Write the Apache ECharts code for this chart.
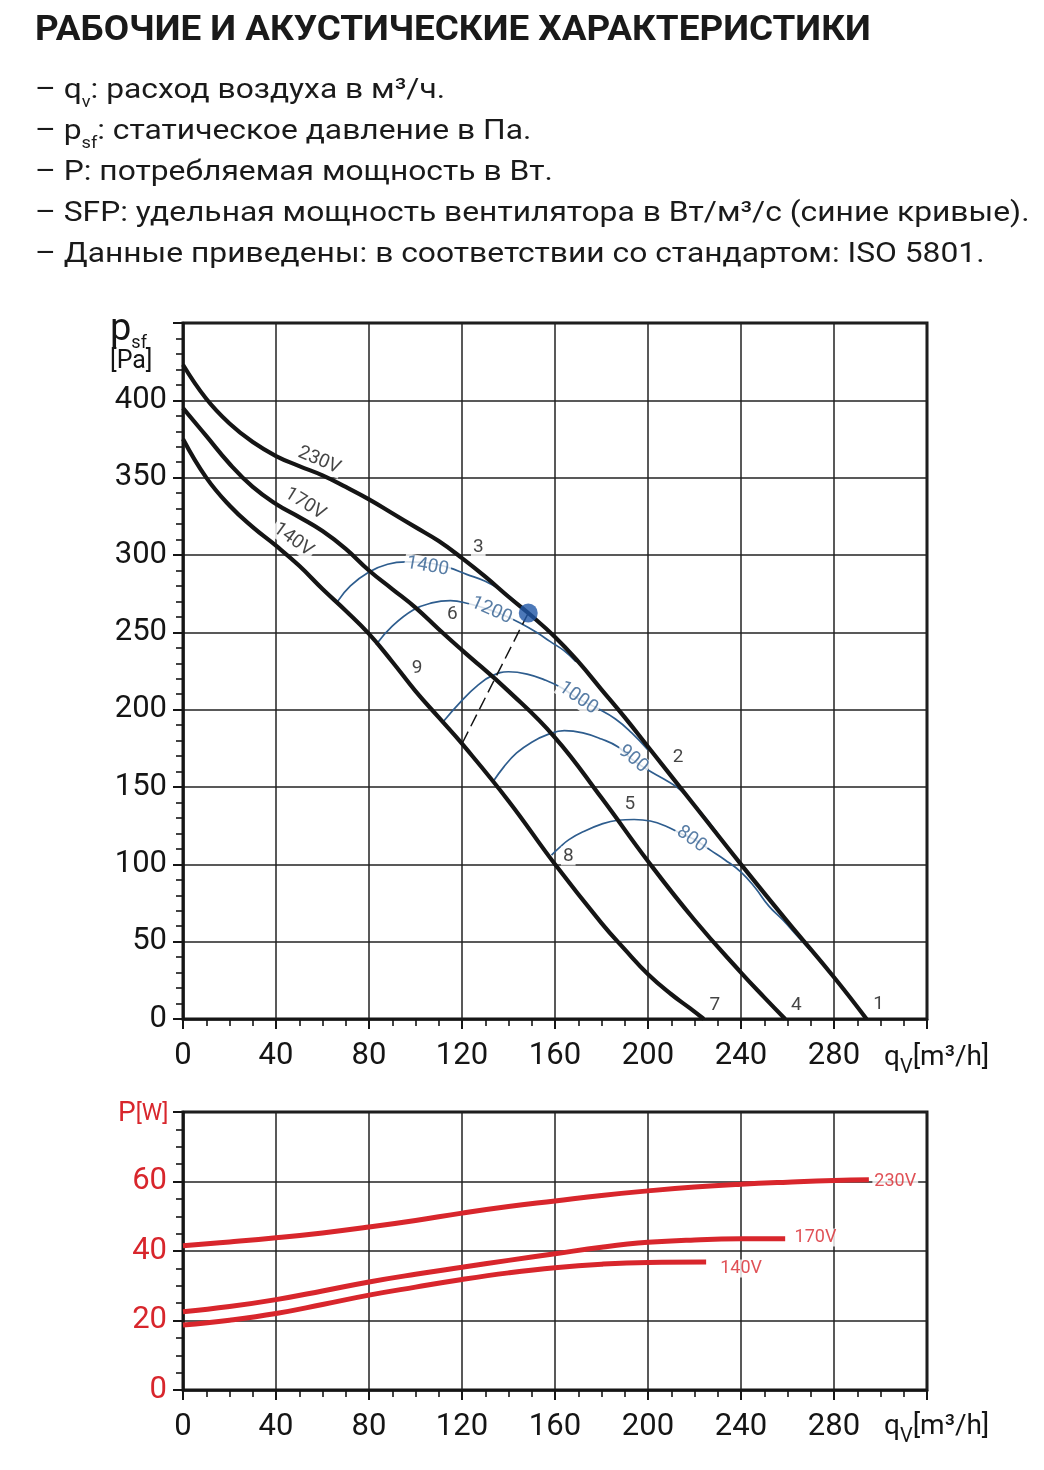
<!DOCTYPE html>
<html><head><meta charset="utf-8">
<script src="https://cdn.jsdelivr.net/npm/echarts@6/dist/echarts.min.js"></script>
<style>html,body{margin:0;padding:0;background:#fff}#c{width:1044px;height:1470px}</style>
</head><body><div id="c"></div>
<script>
// ---- Pressure curves (qv m3/h, psf Pa)
const p230 = [[0,423],[10,401],[20,385],[30,373],[40,364],[50,357.5],[60,351.5],[70,344],[80,336],[90,327],[100,318],[110,309],[120,298],[130,286],[140,273],[148.5,262.5],[160,247],[170,231],[180,213],[190,195],[200,176],[220,138],[240,100],[260,63],[280,27],[294,0]];
const p170 = [[0,395],[10,377],[20,359],[30,344],[40,333],[50,324.5],[60,315.5],[70,304],[80,290],[90,278],[100,266],[110,252],[120,238.5],[140,212],[160,182],[180,143],[200,102],[220,64],[240,30],[250,14],[259,0]];
const p140 = [[0,375],[10,350],[20,332],[30,318],[40,306],[50,293],[60,278],[70,264],[80,249],[90,231],[100,212],[110,195],[120,178],[140,141],[160,100],[180,62],[190,45],[200,29],[210,16],[218,7],[224,0]];
// ---- SFP curves (W/m3/s)
const sfp1400 = [[66.5,270],[72,280],[80,289],[88,294],[96,295.5],[105,295],[114,292],[122,287.5],[130,283],[137,277],[143,270]];
const sfp1200 = [[83,242],[90,254],[99,264.5],[107,269],[115,270.5],[123,268.5],[131,265],[138,261],[145,256],[152,250],[158,244],[164,238],[169,231]];
const sfp1000 = [[111.8,192],[120,206],[127,216],[133,222],[140,224.5],[148,223],[156,219],[163,214],[170,207],[178,201],[186,194],[193,185],[200,174]];
const sfp900 = [[133.4,153.5],[138,163],[143.5,172],[150,179],[157,184],[164,186.5],[172,185],[180,181],[187,176],[193,168],[200,161],[207,155],[214,148],[222,135],[230,120]];
const sfp800 = [[158.5,106],[162,111],[166,116],[172,121],[180,126],[187,128.5],[194,129],[201,128],[208,124.5],[214,120],[220,116],[227,109],[233,103],[240,95],[246,85],[252,73],[258,64],[264,54],[270,44]];
// ---- operating point and its dashed line
const opPoint = [[148.5,262.5]];
const opLine = [[148.5,262.5],[120,178]];
// ---- label anchors (data coords)
const voltLabels = [{name:'230V',value:[58.6,361.1]},{name:'170V',value:[52.5,333]},{name:'140V',value:[47.4,309.8]}];
const voltRot = {'230V':-23,'170V':-32,'140V':-36};
const sfpLabels = [{name:'1400',value:[105.2,292.6]},{name:'1200',value:[132.7,264.1]},{name:'1000',value:[170,207.4]},{name:'900',value:[193.6,168]},{name:'800',value:[218.7,116.2]}];
const sfpRot = {'1400':-10,'1200':-24,'1000':-35,'900':-40,'800':-36};
const numLabels = [{name:'1',value:[299.2,9.7]},{name:'2',value:[212.9,169.3]},{name:'3',value:[127,305.1]},{name:'4',value:[263.8,9]},{name:'5',value:[192.2,139]},{name:'6',value:[115.8,262]},{name:'7',value:[228.7,9]},{name:'8',value:[165.7,105.4]},{name:'9',value:[100.7,226.8]}];
// ---- Power curves (qv m3/h, P W)
const w230 = [[0,41.5],[20,42.6],[40,43.8],[60,45.2],[80,46.9],[100,48.8],[120,50.9],[140,52.8],[160,54.4],[180,56],[200,57.3],[220,58.4],[240,59.2],[260,59.8],[280,60.3],[295,60.5]];
const w170 = [[0,22.5],[20,24],[40,26],[60,28.5],[80,31.1],[100,33.3],[120,35.3],[140,37.3],[160,39.2],[180,41.1],[200,42.5],[220,43.2],[240,43.5],[259,43.5]];
const w140 = [[0,18.7],[20,20.1],[40,22],[60,24.6],[80,27.3],[100,29.6],[120,31.8],[140,33.7],[160,35.2],[180,36.2],[200,36.7],[225,36.8]];
const powerLabels = [{name:'230V',value:[296.5,59.9]},{name:'170V',value:[262.2,43.9]},{name:'140V',value:[230.2,35]}];

const titleText = 'РАБОЧИЕ И АКУСТИЧЕСКИЕ ХАРАКТЕРИСТИКИ';
const descLines = [
  '– q{s|v}: расход воздуха в м³/ч.',
  '– p{s|sf}: статическое давление в Па.',
  '– P: потребляемая мощность в Вт.',
  '– SFP: удельная мощность вентилятора в Вт/м³/с (синие кривые).',
  '– Данные приведены: в соответствии со стандартом: ISO 5801.'
];

const FONT = 'Roboto';
const BLACK = '#151515';
const BLUE = '#2e5d8e';
const RED = '#d8262c';

function xAxisCfg(gi){
  return {type:'value',gridIndex:gi,min:0,max:320,interval:40,
    axisLine:{show:true,lineStyle:{color:BLACK,width:2.5}},
    axisTick:{show:true,length:10,lineStyle:{color:BLACK,width:2}},
    minorTick:{show:true,splitNumber:4,length:7,lineStyle:{color:BLACK,width:1.6}},
    splitLine:{show:true,lineStyle:{color:'#222',width:1.5}},
    axisLabel:{margin:22,fontSize:31,fontFamily:FONT,color:BLACK,formatter:v=>v===320?'':String(v)}};
}
const lineBase = {type:'line',showSymbol:false,symbol:'none',silent:true,smooth:0.45};
function blackLine(d){return Object.assign({},lineBase,{xAxisIndex:0,yAxisIndex:0,data:d,z:4,lineStyle:{color:BLACK,width:4.2}});}
function blueLine(d){return Object.assign({},lineBase,{xAxisIndex:0,yAxisIndex:0,data:d,z:3,lineStyle:{color:BLUE,width:1.7}});}
function redLine(d){return Object.assign({},lineBase,{xAxisIndex:1,yAxisIndex:1,data:d,z:4,lineStyle:{color:RED,width:5}});}
function labelSeries(items,rot,color,size,xi,yi,pos){
  return {type:'scatter',xAxisIndex:xi,yAxisIndex:yi,symbolSize:0,silent:true,z:6,
    data:items.map(it=>({name:it.name,value:it.value,label:{rotate:rot?(rot[it.name]||0):0}})),
    label:{show:true,position:pos||'inside',distance:0,formatter:'{b}',color:color,fontSize:size,fontFamily:FONT,
      backgroundColor:'#fff',padding:[0,2,0,2]}};
}

const graphics = [
  {type:'text',x:35,y:31,scaleX:1.053,style:{text:titleText,font:'bold 35px '+FONT,fill:'#1a1a1a',verticalAlign:'middle'}}
];
descLines.forEach((t,i)=>{
  graphics.push({type:'text',x:35,y:91+i*41,scaleX:1.135,style:{text:t,fontSize:28,fontFamily:FONT,fill:'#1a1a1a',
    verticalAlign:'middle',lineHeight:40,rich:{s:{fontSize:16,fontFamily:FONT,verticalAlign:'bottom',fill:'#1a1a1a'}}}});
});
// axis names
graphics.push({type:'text',x:110,y:330,style:{text:'p{s|sf}',fontSize:38,fontFamily:FONT,fill:BLACK,verticalAlign:'middle',lineHeight:44,rich:{s:{fontSize:18,fontFamily:FONT,verticalAlign:'bottom'}}}});
graphics.push({type:'text',x:110,y:362,style:{text:'[Pa]',fontSize:25,fontFamily:FONT,fill:BLACK,verticalAlign:'middle'}});
graphics.push({type:'text',x:884,y:1058,style:{text:'q{s|V}[m³/h]',fontSize:28,fontFamily:FONT,fill:BLACK,verticalAlign:'middle',lineHeight:40,rich:{s:{fontSize:20,fontFamily:FONT,verticalAlign:'bottom'}}}});
graphics.push({type:'text',x:884,y:1427,style:{text:'q{s|V}[m³/h]',fontSize:28,fontFamily:FONT,fill:BLACK,verticalAlign:'middle',lineHeight:40,rich:{s:{fontSize:20,fontFamily:FONT,verticalAlign:'bottom'}}}});
graphics.push({type:'text',x:118,y:1114,style:{text:'P{w|[W]}',fontSize:28,fontFamily:FONT,fill:RED,verticalAlign:'middle',rich:{w:{fontSize:23,fontFamily:FONT,fill:RED}}}});

const option = {
  backgroundColor:'#fff',
  animation:false,
  graphic:graphics,
  grid:[
    {left:183,top:323,width:744,height:696,show:true,borderColor:BLACK,borderWidth:3,backgroundColor:'transparent'},
    {left:183,top:1112,width:744,height:278,show:true,borderColor:BLACK,borderWidth:3,backgroundColor:'transparent'}
  ],
  xAxis:[xAxisCfg(0),xAxisCfg(1)],
  yAxis:[
    {type:'value',gridIndex:0,min:0,max:450,interval:50,
      axisLine:{show:true,lineStyle:{color:BLACK,width:2.5}},
      axisTick:{show:true,length:10,lineStyle:{color:BLACK,width:2}},
      minorTick:{show:true,splitNumber:5,length:7,lineStyle:{color:BLACK,width:1.6}},
      splitLine:{show:true,lineStyle:{color:'#222',width:1.5}},
      axisLabel:{margin:16,fontSize:31,fontFamily:FONT,color:BLACK,formatter:v=>v===450?'':String(v)}},
    {type:'value',gridIndex:1,min:0,max:80,interval:20,
      axisLine:{show:true,lineStyle:{color:BLACK,width:2.5}},
      axisTick:{show:true,length:10,lineStyle:{color:BLACK,width:2}},
      minorTick:{show:true,splitNumber:4,length:7,lineStyle:{color:BLACK,width:1.6}},
      splitLine:{show:true,lineStyle:{color:'#222',width:1.5}},
      axisLabel:{margin:16,fontSize:31,fontFamily:FONT,color:RED,formatter:v=>v===80?'':String(v)}}
  ],
  series:[
    blueLine(sfp1400),blueLine(sfp1200),blueLine(sfp1000),blueLine(sfp900),blueLine(sfp800),
    blackLine(p230),blackLine(p170),blackLine(p140),
    Object.assign({},lineBase,{xAxisIndex:0,yAxisIndex:0,data:opLine,smooth:false,z:3,lineStyle:{color:BLACK,width:1.5,type:[13,6]}}),
    {type:'scatter',xAxisIndex:0,yAxisIndex:0,data:opPoint,symbolSize:19,silent:true,z:7,itemStyle:{color:'#1f56a6'}},
    labelSeries(voltLabels,voltRot,BLACK,19,0,0),
    labelSeries(sfpLabels,sfpRot,BLUE,19,0,0),
    labelSeries(numLabels,null,BLACK,19,0,0),
    redLine(w230),redLine(w170),redLine(w140),
    labelSeries(powerLabels,null,RED,18,1,1,'right')
  ]
};
const chart = echarts.init(document.getElementById('c'),null,{renderer:'canvas'});
chart.setOption(option);
</script></body></html>
